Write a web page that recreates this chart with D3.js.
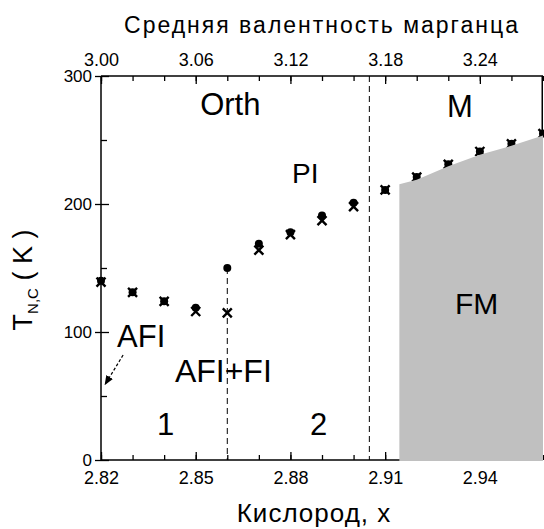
<!DOCTYPE html>
<html>
<head>
<meta charset="utf-8">
<script src="https://cdn.jsdelivr.net/npm/d3@7"></script>
<style>
  html, body { margin: 0; padding: 0; background: #fff; }
  svg { display: block; font-family: "Liberation Sans", Arial, sans-serif; }
</style>
</head>
<body>
<svg id="chart" width="544" height="529"></svg>
<script>
// oxygen content x and the two transition-temperature series
const oxygen = [2.82, 2.83, 2.84, 2.85, 2.86, 2.87, 2.88, 2.89, 2.90, 2.91, 2.92, 2.93, 2.94, 2.95, 2.96];
const tFilled = [140, 131, 124, 119, 150, 169, 178, 191, 201, 211, 221, 231, 241, 247, 255];
const tCross = [139, 131, 124, 116, 115, 164, 176, 187, 198, 211, 221, 231, 241, 247, 255];

// upper edge of the FM (grey) region
const fmX = [2.9145, 2.92, 2.93, 2.94, 2.95, 2.96];
const fmT = [215.5, 219, 229.5, 238.5, 245.5, 253.5];

const bottomMajor = [2.82, 2.85, 2.88, 2.91, 2.94];
const bottomMinor = d3.range(2.82, 2.965, 0.01);
const topMajor = [3.00, 3.06, 3.12, 3.18, 3.24];
const topMinor = d3.range(3.00, 3.285, 0.02);
const leftMajor = [0, 100, 200, 300];
const leftMinor = [50, 150, 250];

const phaseBorders = [2.86, 2.905];

const regionLabels = [
  { text: "Orth", x: 2.8514, t: 269.5, size: 31 },
  { text: "M", x: 2.9296, t: 268, size: 31 },
  { text: "PI", x: 2.8805, t: 216.4, size: 28 },
  { text: "FM", x: 2.9321, t: 114, size: 30 },
  { text: "AFI", x: 2.8251, t: 88.3, size: 31 },
  { text: "AFI+FI", x: 2.8434, t: 61, size: 32 },
  { text: "1", x: 2.8377, t: 19.5, size: 31 },
  { text: "2", x: 2.8862, t: 19.5, size: 31 }
];
const afiArrow = { x1: 2.827, t1: 82, x2: 2.8213, t2: 59 };

const svg = d3.select("#chart");
const x = d3.scaleLinear().domain([2.82, 2.96]).range([101, 543]);
const xTop = d3.scaleLinear().domain([3.00, 3.28]).range([101, 543]);
const y = d3.scaleLinear().domain([0, 300]).range([460, 76]);

const styleAxis = (g, size) => {
  g.select(".domain").remove();
  g.selectAll(".tick line").attr("stroke", "#000").attr("stroke-width", 1.3);
  g.selectAll("text").attr("font-size", size).attr("fill", "#000").attr("font-family", null);
};

// bottom axis
svg.append("g").attr("transform", "translate(0,460)")
  .call(d3.axisBottom(x).tickValues(bottomMinor).tickSize(-5).tickFormat(""))
  .call((g) => styleAxis(g, 18));
svg.append("g").attr("transform", "translate(0,460)")
  .call(d3.axisBottom(x).tickValues(bottomMajor).tickSize(-8).tickPadding(11).tickFormat(d3.format(".2f")))
  .call((g) => styleAxis(g, 18));

// top axis
svg.append("g").attr("transform", "translate(0,76)")
  .call(d3.axisTop(xTop).tickValues(topMinor).tickSize(-5).tickFormat(""))
  .call((g) => styleAxis(g, 18));
svg.append("g").attr("transform", "translate(0,76)")
  .call(d3.axisTop(xTop).tickValues(topMajor).tickSize(-8).tickPadding(10).tickFormat(d3.format(".2f")))
  .call((g) => styleAxis(g, 18));

// left axis
svg.append("g").attr("transform", "translate(101,0)")
  .call(d3.axisLeft(y).tickValues(leftMinor).tickSize(-6).tickFormat(""))
  .call((g) => styleAxis(g, 17));
svg.append("g").attr("transform", "translate(101,0)")
  .call(d3.axisLeft(y).tickValues(leftMajor).tickSize(6).tickPadding(3).tickFormat(d3.format("d")))
  .call((g) => styleAxis(g, 17))
  .call((g) => g.selectAll(".tick line").attr("x2", 8).attr("x1", -6));

// frame lines
const frame = svg.append("g").attr("stroke", "#000").attr("stroke-width", 1.5);
frame.append("line").attr("x1", x(2.82)).attr("x2", x(2.82)).attr("y1", y(300)).attr("y2", y(0));
frame.append("line").attr("x1", x(2.82)).attr("x2", x(2.96)).attr("y1", y(300)).attr("y2", y(300));
frame.append("line").attr("x1", x(2.82)).attr("x2", x(2.96)).attr("y1", y(0)).attr("y2", y(0));
frame.append("line").attr("x1", x(2.96) - 0.75).attr("x2", x(2.96) - 0.75).attr("y1", y(300)).attr("y2", y(fmT[fmT.length - 1]));

// dashed phase borders
svg.append("line")
  .attr("x1", x(phaseBorders[0])).attr("x2", x(phaseBorders[0]))
  .attr("y1", y(tFilled[oxygen.indexOf(2.86)])).attr("y2", y(0))
  .attr("stroke", "#000").attr("stroke-dasharray", "6,4");
svg.append("line")
  .attr("x1", x(phaseBorders[1])).attr("x2", x(phaseBorders[1]))
  .attr("y1", y(300)).attr("y2", y(0))
  .attr("stroke", "#000").attr("stroke-dasharray", "6,4");

// markers
const points = oxygen.map((o, i) => ({ o, tf: tFilled[i], tc: tCross[i] }));
svg.append("g").selectAll("path")
  .data(points)
  .join("path")
  .attr("d", (p) => {
    const cx = x(p.o), cy = y(p.tc), s = 4.5;
    return `M${cx - s},${cy - s}L${cx + s},${cy + s}M${cx - s},${cy + s}L${cx + s},${cy - s}`;
  })
  .attr("stroke", "#000").attr("stroke-width", 2.4).attr("fill", "none");
svg.append("g").selectAll("circle")
  .data(points)
  .join("circle")
  .attr("cx", (p) => x(p.o))
  .attr("cy", (p) => y(p.tf))
  .attr("r", 4)
  .attr("fill", "#000");

// FM region
const fmPoly = fmX.map((v, i) => [x(v), y(fmT[i])])
  .concat([[x(fmX[fmX.length - 1]), y(0) + 1], [x(fmX[0]), y(0) + 1]]);
svg.append("path")
  .attr("d", d3.line()(fmPoly) + "Z")
  .attr("fill", "#c0c0c0");

// labels in the plot
svg.append("g").selectAll("text")
  .data(regionLabels)
  .join("text")
  .attr("x", (d) => x(d.x))
  .attr("y", (d) => y(d.t))
  .attr("font-size", (d) => d.size)
  .attr("fill", "#000")
  .text((d) => d.text);

svg.append("defs").append("marker")
  .attr("id", "arrowhead")
  .attr("viewBox", "0 0 10 10")
  .attr("refX", 9).attr("refY", 5)
  .attr("markerWidth", 8).attr("markerHeight", 8)
  .attr("orient", "auto")
  .append("path").attr("d", "M0,1L10,5L0,9Z").attr("fill", "#000");

svg.append("line")
  .attr("x1", x(afiArrow.x1)).attr("y1", y(afiArrow.t1))
  .attr("x2", x(afiArrow.x2)).attr("y2", y(afiArrow.t2))
  .attr("stroke", "#000").attr("stroke-width", 1.2)
  .attr("stroke-dasharray", "3,2")
  .attr("marker-end", "url(#arrowhead)");

// axis titles
svg.append("text")
  .attr("x", 322).attr("y", 33)
  .attr("text-anchor", "middle")
  .attr("font-size", 23)
  .attr("letter-spacing", 2)
  .text("Средняя валентность марганца");

svg.append("text")
  .attr("x", 314).attr("y", 522)
  .attr("text-anchor", "middle")
  .attr("font-size", 26)
  .attr("letter-spacing", 1)
  .text("Кислород, x");

const yTitle = svg.append("text")
  .attr("transform", "translate(32,280) rotate(-90)")
  .attr("text-anchor", "middle")
  .attr("font-size", 27);
yTitle.append("tspan").text("T");
yTitle.append("tspan").attr("font-size", 15).attr("dy", 6).text("N,C");
yTitle.append("tspan").attr("dy", -6).text(" ( K )");
</script>
</body>
</html>
